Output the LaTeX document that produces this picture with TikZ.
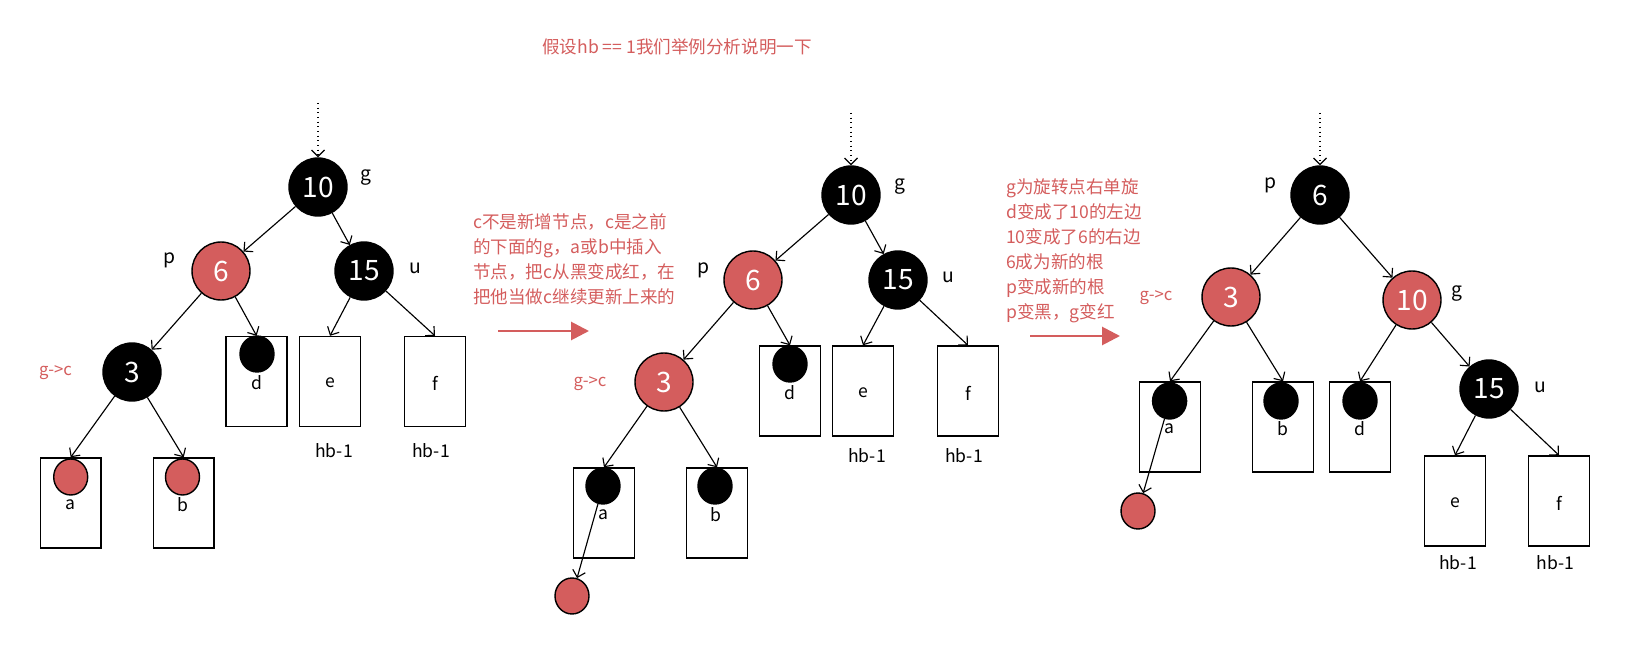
\documentclass[tikz,border=0pt]{standalone}
\usepackage{fontspec}
\setmainfont{Noto Sans CJK SC}
\usetikzlibrary{arrows.meta,shapes.geometric}
\definecolor{rbred}{RGB}{212,93,93}
\begin{document}
\begin{tikzpicture}[x=0.02cm,y=-0.02cm,every node/.style={font=\fontsize{10}{12}\selectfont},
  blknode/.style={circle,draw,line width=0.8pt,fill=black,text=white,minimum size=1.16cm,inner sep=0pt,font=\fontsize{16}{16}\selectfont},
  rednode/.style={blknode,fill=rbred},
  leaf/.style={draw,line width=0.8pt,minimum width=1.22cm,minimum height=1.8cm,inner sep=0pt},
  blkdot/.style={ellipse,draw,line width=0.8pt,fill=black,minimum width=0.68cm,minimum height=0.72cm,inner sep=0pt},
  reddot/.style={blkdot,fill=rbred},
  tag/.style={font=\fontsize{11}{11}\selectfont},
  gc/.style={text=rbred,font=\fontsize{9.5}{9.5}\selectfont},
  note/.style={text=rbred,align=left,font=\fontsize{10}{14.2}\selectfont},
  link/.style={-{Straight Barb[length=1.3mm,width=2.6mm]},line width=0.65pt},
  step arrow/.style={-{Triangle[length=0.36cm,width=0.36cm]},rbred,line width=1.6pt}]
  \useasboundingbox (0,0) rectangle (1635,662);

  \node[text=rbred] (title) at (677,47) {假设hb == 1我们举例分析说明一下};

  % before
  \coordinate (top1) at (318,103);
  \node[blknode] (g1) at (318,187) {10};
  \node[rednode] (p1) at (221,271) {6};
  \node[blknode] (u1) at (364,271) {15};
  \node[blknode] (c1) at (132,372) {3};
  \node[tag] at (366,178) {g};
  \node[tag] at (169,260) {p};
  \node[tag] at (415,268) {u};
  \node[gc] at (55.5,373) {g->c};
  \node[leaf] (a1) at (70.7,503) {};
  \node[leaf] (b1) at (183.7,503) {};
  \node[leaf] (d1) at (256.6,381.5) {};
  \node[leaf] (e1) at (330,381.5) {};
  \node[leaf] (f1) at (435,381.5) {};
  \node[reddot] (da1) at (70.7,477) {};
  \node[reddot] (db1) at (182.5,477) {};
  \node[blkdot] (dd1) at (257,354) {};
  \node at (70.7,505) {a};
  \node at (183.2,505) {b};
  \node at (257,383) {d};
  \node at (330,383) {e};
  \node at (435,383) {f};
  \node at (334,451) {hb-1};
  \node at (431,451) {hb-1};
  \draw[link,dotted] (top1) -- (g1);
  \draw[link] (g1) -- (p1);
  \draw[link] (g1) -- (u1);
  \draw[link] (p1) -- (c1);
  \draw[link] (p1) -- (d1.north);
  \draw[link] (u1) -- (e1.north);
  \draw[link] (u1) -- (f1.north);
  \draw[link] (c1) -- (a1.north);
  \draw[link] (c1) -- (b1.north);

  \node[note,anchor=west] (note1) at (467,259.5) {c不是新增节点，c是之前\\的下面的g，a或b中插入\\节点，把c从黑变成红，在\\把他当做c继续更新上来的};
  \coordinate (s1) at (498,331);
  \coordinate (t1) at (589,331);
  \draw[step arrow] (s1) -- (t1);

  % recolour
  \coordinate (top2) at (851,113);
  \node[blknode] (g2) at (851,195) {10};
  \node[rednode] (p2) at (753,280) {6};
  \node[blknode] (u2) at (898,280) {15};
  \node[rednode] (c2) at (664,382) {3};
  \node[tag] at (900,187) {g};
  \node[tag] at (703,270) {p};
  \node[tag] at (948,277) {u};
  \node[gc] at (590,384) {g->c};
  \node[leaf] (a2) at (604,513) {};
  \node[leaf] (b2) at (717,513) {};
  \node[leaf] (d2) at (790,391) {};
  \node[leaf] (e2) at (863,391) {};
  \node[leaf] (f2) at (968,391) {};
  \node[blkdot] (da2) at (603,486) {};
  \node[blkdot] (db2) at (715,486) {};
  \node[blkdot] (dd2) at (790,364) {};
  \node[reddot] (x2) at (572,596) {};
  \node at (603,515) {a};
  \node at (716,515) {b};
  \node at (790,393) {d};
  \node at (863,393) {e};
  \node at (968,393) {f};
  \node at (867,456) {hb-1};
  \node at (964,456) {hb-1};
  \draw[link,dotted] (top2) -- (g2);
  \draw[link] (g2) -- (p2);
  \draw[link] (g2) -- (u2);
  \draw[link] (p2) -- (c2);
  \draw[link] (p2) -- (d2.north);
  \draw[link] (u2) -- (e2.north);
  \draw[link] (u2) -- (f2.north);
  \draw[link] (c2) -- (a2.north);
  \draw[link] (c2) -- (b2.north);
  \draw[link] (da2) -- (x2);

  \node[note,anchor=west] (note2) at (1000,250.5) {g为旋转点右单旋\\d变成了10的左边\\10变成了6的右边\\6成为新的根\\p变成新的根\\p变黑，g变红};
  \coordinate (s2) at (1030,336);
  \coordinate (t2) at (1120,336);
  \draw[step arrow] (s2) -- (t2);

  % after rotation
  \coordinate (top3) at (1320,113);
  \node[blknode] (p3) at (1320,195) {6};
  \node[rednode] (c3) at (1231,297) {3};
  \node[rednode] (g3) at (1412,300) {10};
  \node[blknode] (u3) at (1489,389) {15};
  \node[tag] at (1270,185) {p};
  \node[gc] at (1156,298) {g->c};
  \node[tag] at (1457,294) {g};
  \node[tag] at (1540,387) {u};
  \node[leaf] (a3) at (1170,427) {};
  \node[leaf] (b3) at (1283,427) {};
  \node[leaf] (d3) at (1360,427) {};
  \node[leaf] (e3) at (1455,501) {};
  \node[leaf] (f3) at (1559,501) {};
  \node[blkdot] (da3) at (1169.6,401) {};
  \node[blkdot] (db3) at (1281,401) {};
  \node[blkdot] (dd3) at (1360,401) {};
  \node[reddot] (x3) at (1138,511) {};
  \node at (1169.6,429) {a};
  \node at (1283,429) {b};
  \node at (1360,429) {d};
  \node at (1455,503) {e};
  \node at (1559.7,503) {f};
  \node at (1458,563) {hb-1};
  \node at (1555.5,563) {hb-1};
  \draw[link,dotted] (top3) -- (p3);
  \draw[link] (p3) -- (c3);
  \draw[link] (p3) -- (g3);
  \draw[link] (c3) -- (a3.north);
  \draw[link] (c3) -- (b3.north);
  \draw[link] (g3) -- (d3.north);
  \draw[link] (g3) -- (u3);
  \draw[link] (u3) -- (e3.north);
  \draw[link] (u3) -- (f3.north);
  \draw[link] (da3) -- (x3);
\end{tikzpicture}
\end{document}
